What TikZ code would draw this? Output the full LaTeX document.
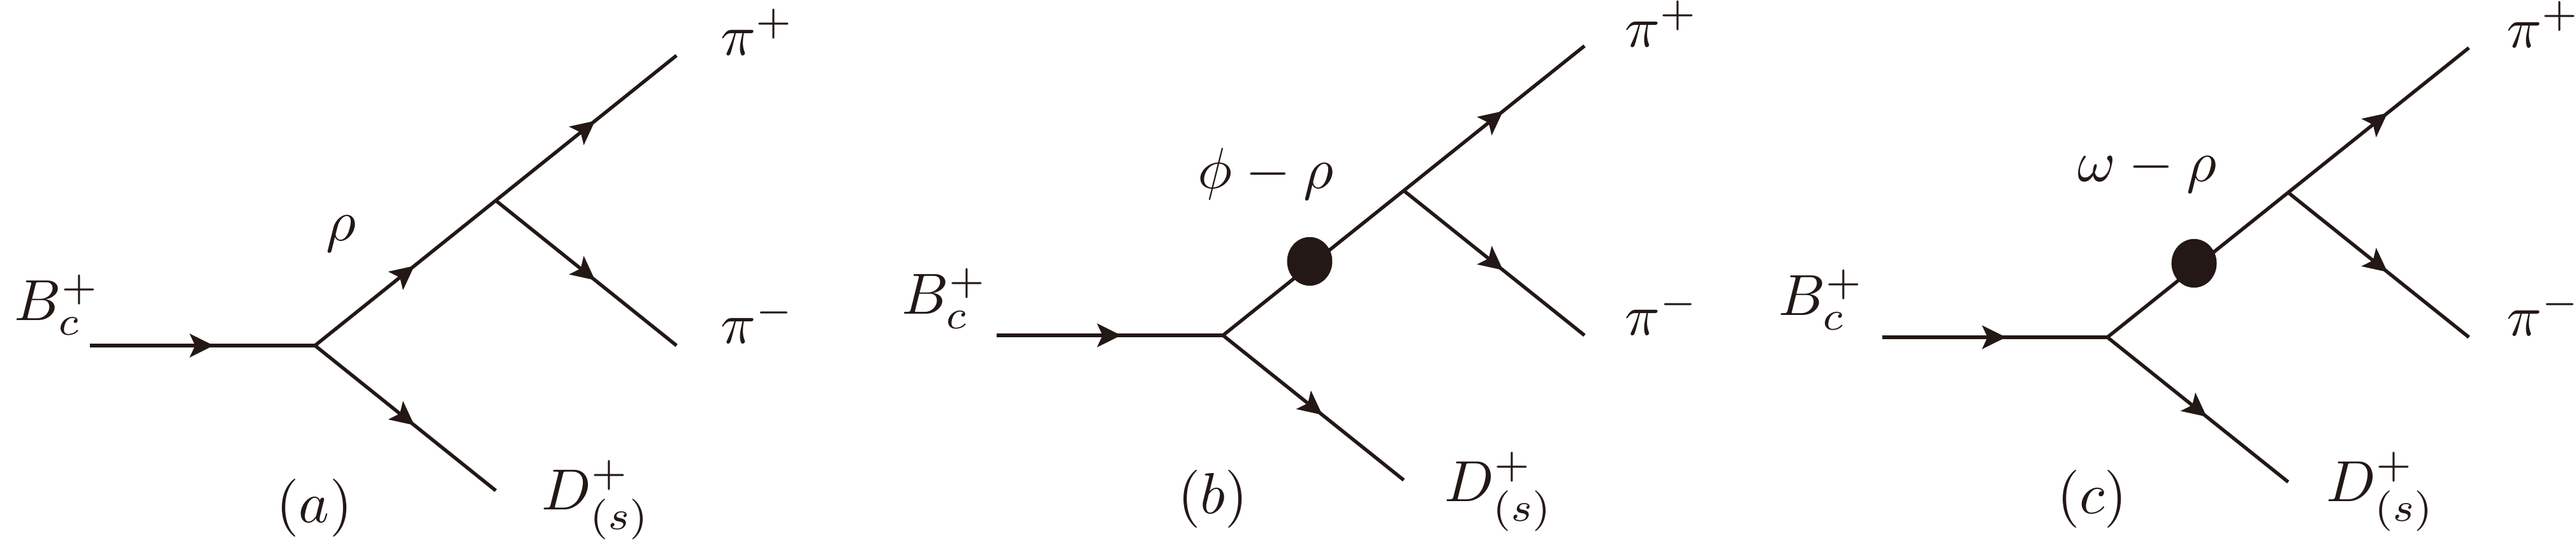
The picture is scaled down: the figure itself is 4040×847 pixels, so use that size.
\documentclass[tikz,border=0pt]{standalone}
\usetikzlibrary{arrows.meta,decorations.markings,shapes.geometric}
\definecolor{ink}{RGB}{35,24,21}
\begin{document}
\begin{tikzpicture}[x=0.11pt,y=-0.11pt,
  fline/.style={draw=ink, line width=0.6pt},
  inline/.style={draw=ink, line width=0.74pt},
  arr/.style={postaction={decorate},
    decoration={markings,mark=at position #1 with {\arrow[ink]{Stealth[length=4.1pt,width=4pt,inset=0.9pt]}}}},
  arr/.default=0.55,
  lbl/.style={inner sep=0pt, anchor=base west, text=ink},
  captxt/.style={inner sep=0pt, anchor=base, text=ink},
  blob/.style={ellipse, fill=ink, draw=none, minimum width=7.8pt, minimum height=8.4pt, inner sep=0pt}]
\useasboundingbox[fill=white,draw=none] (0,0) rectangle (4040,847);

% ---------- panel (a) ----------
\coordinate (aS) at (141,542);
\coordinate (aV) at (494,542);
\coordinate (aJ) at (777.5,314.5);
\coordinate (aP) at (1061,87);
\coordinate (aM) at (1061,542);
\coordinate (aD) at (777.5,769.5);
\draw[inline,arr] (aS) -- (aV);
\draw[fline,arr] (aV) -- (aJ);
\draw[fline,arr] (aJ) -- (aP);
\draw[fline,arr] (aJ) -- (aM);
\draw[fline,arr] (aV) -- (aD);
\node[lbl] (aBl) at (21,503) {$B_c^+$};
\node[lbl] (arho) at (510,378) {$\rho$};
\node[lbl] (aPl) at (1129,87) {$\pi^+$};
\node[lbl] (aMl) at (1129,539) {$\pi^-$};
\node[lbl] (aDl) at (848,800) {$D^+_{(s)}$};
\node[captxt] (acap) at (493,820) {$(a)$};

% ---------- panel (b) ----------
\coordinate (bS) at (1563,526);
\coordinate (bV) at (1918,526);
\coordinate (bJ) at (2201.5,299);
\coordinate (bP) at (2485,72);
\coordinate (bM) at (2485,526);
\coordinate (bD) at (2201.5,753);
\draw[inline,arr] (bS) -- (bV);
\draw[fline] (bV) -- (bJ);
\draw[fline,arr] (bJ) -- (bP);
\draw[fline,arr] (bJ) -- (bM);
\draw[fline,arr] (bV) -- (bD);
\node[blob] (bblob) at (2054,410) {};
\node[lbl] (bBl) at (1413,493) {$B_c^+$};
\node[lbl] (bmix) at (1877,296) {$\phi-\rho$};
\node[lbl] (bPl) at (2547,74) {$\pi^+$};
\node[lbl] (bMl) at (2547,526) {$\pi^-$};
\node[lbl] (bDl) at (2264,787) {$D^+_{(s)}$};
\node[captxt] (bcap) at (1902,806) {$(b)$};

% ---------- panel (c) ----------
\coordinate (cS) at (2952,529);
\coordinate (cV) at (3305,529);
\coordinate (cJ) at (3588.5,302);
\coordinate (cP) at (3872,75);
\coordinate (cM) at (3872,529);
\coordinate (cD) at (3588.5,756);
\draw[inline,arr] (cS) -- (cV);
\draw[fline] (cV) -- (cJ);
\draw[fline,arr] (cJ) -- (cP);
\draw[fline,arr] (cJ) -- (cM);
\draw[fline,arr] (cV) -- (cD);
\node[blob] (cblob) at (3441,413) {};
\node[lbl] (cBl) at (2788,495) {$B_c^+$};
\node[lbl] (cmix) at (3257,285) {$\omega-\rho$};
\node[lbl] (cPl) at (3930,75) {$\pi^+$};
\node[lbl] (cMl) at (3930,527) {$\pi^-$};
\node[lbl] (cDl) at (3647,787) {$D^+_{(s)}$};
\node[captxt] (ccap) at (3281,806) {$(c)$};
\end{tikzpicture}
\end{document}
